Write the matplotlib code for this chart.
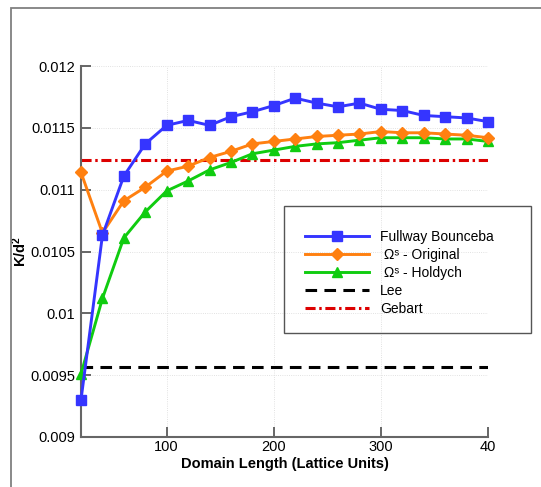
import matplotlib
matplotlib.use("Agg")
import matplotlib.pyplot as plt
from matplotlib.patches import Rectangle
from matplotlib.ticker import FuncFormatter

plt.rcParams.update({
    "font.family": ["Liberation Sans", "DejaVu Sans"],
    "font.size": 10,
    "mathtext.fontset": "custom",
    "mathtext.rm": "Liberation Sans",
    "mathtext.it": "Liberation Sans",
    "mathtext.bf": "Liberation Sans:bold",
})

# domain length (lattice units)
length = [20, 40, 60, 80, 100, 120, 140, 160, 180, 200,
          220, 240, 260, 280, 300, 320, 340, 360, 380, 400]

fullway = [0.00930, 0.01063, 0.01111, 0.01137, 0.01152, 0.01156, 0.01152,
           0.01159, 0.01163, 0.01168, 0.01174, 0.01170, 0.01167, 0.01170,
           0.01165, 0.01164, 0.01160, 0.01159, 0.01158, 0.01155]
original = [0.01114, 0.01065, 0.01091, 0.01102, 0.01115, 0.01119, 0.01126,
            0.01131, 0.01137, 0.01139, 0.01141, 0.01143, 0.01144, 0.01145,
            0.01147, 0.01146, 0.01146, 0.01145, 0.01144, 0.01142]
holdych = [0.00951, 0.01012, 0.01061, 0.01082, 0.01099, 0.01107, 0.01116,
           0.01122, 0.01129, 0.01132, 0.01135, 0.01137, 0.01138, 0.01140,
           0.01142, 0.01142, 0.01142, 0.01141, 0.01141, 0.01139]
lee = 0.009565
gebart = 0.011242

W, H = 541, 487
fig = plt.figure(figsize=(W / 100, H / 100), dpi=100)

# outer frame
fig.patches.append(Rectangle((11 / W, -0.05), 1.2, 1 - 8 / H + 0.05,
                             transform=fig.transFigure, fill=False,
                             edgecolor="#808080", lw=1.3))

ax = fig.add_axes([81 / W, 1 - 437 / H, (488 - 81) / W, (437 - 66) / H])

ax.grid(True, ls=":", lw=0.6, color="#d8d8d8")
ax.set_axisbelow(True)

ax.plot(length, fullway, "s-", color="#3535ff", lw=2.1, ms=6.8,
        label="Fullway Bounceba", clip_on=False, zorder=5)
ax.plot(length, original, "D-", color="#ff8010", lw=2.1, ms=6.3,
        label=" \u03a9\u02e2 - Original", clip_on=False, zorder=4)
ax.plot(length, holdych, "^-", color="#10cc10", lw=2.1, ms=6.8,
        label=" \u03a9\u02e2 - Holdych", clip_on=False, zorder=3)
ax.plot([length[0], length[-1]], [lee, lee], color="black", lw=2.2,
        dashes=(3.8, 2.4), label="Lee")
ax.plot([length[0], length[-1]], [gebart, gebart], color="#dd0000", lw=2.2,
        dashes=(3.3, 1.2, 0.8, 1.2), label="Gebart")

ax.set_xlim(20, 400)
ax.set_ylim(0.009, 0.012)
ax.set_xticks([100, 200, 300, 400])
ax.set_xticklabels(["100", "200", "300", "40"])
ax.set_yticks([0.009, 0.0095, 0.01, 0.0105, 0.011, 0.0115, 0.012])
ax.yaxis.set_major_formatter(FuncFormatter(lambda v, p: f"{v:g}"))

for s in ["top", "right"]:
    ax.spines[s].set_visible(False)
for s in ["left", "bottom"]:
    ax.spines[s].set_color("#666666")
    ax.spines[s].set_linewidth(1.5)
ax.tick_params(direction="in", length=7, width=1.4, color="#666666",
               labelsize=10.5)
ax.tick_params(axis="y", pad=4)
ax.tick_params(axis="x", pad=2)

ax.set_xlabel("Domain Length (Lattice Units)", fontweight="bold",
              fontsize=10.5, labelpad=2)
ax.set_ylabel(r"K/d$^\mathbf{2}$", fontweight="bold", fontsize=10.5,
              labelpad=1)

# legend box
fig.patches.append(Rectangle((284 / W, 1 - 333 / H), (531 - 284) / W,
                             (333 - 206) / H, transform=fig.transFigure,
                             fill=False, edgecolor="#555555", lw=1.0))
fig.legend(loc="upper left", bbox_to_anchor=(305 / W, 1 - 230 / H),
           frameon=False, borderpad=0, borderaxespad=0, handlelength=4.6,
           handletextpad=0.8, labelspacing=0.28, fontsize=10)

fig.savefig("out.png", dpi=100)
